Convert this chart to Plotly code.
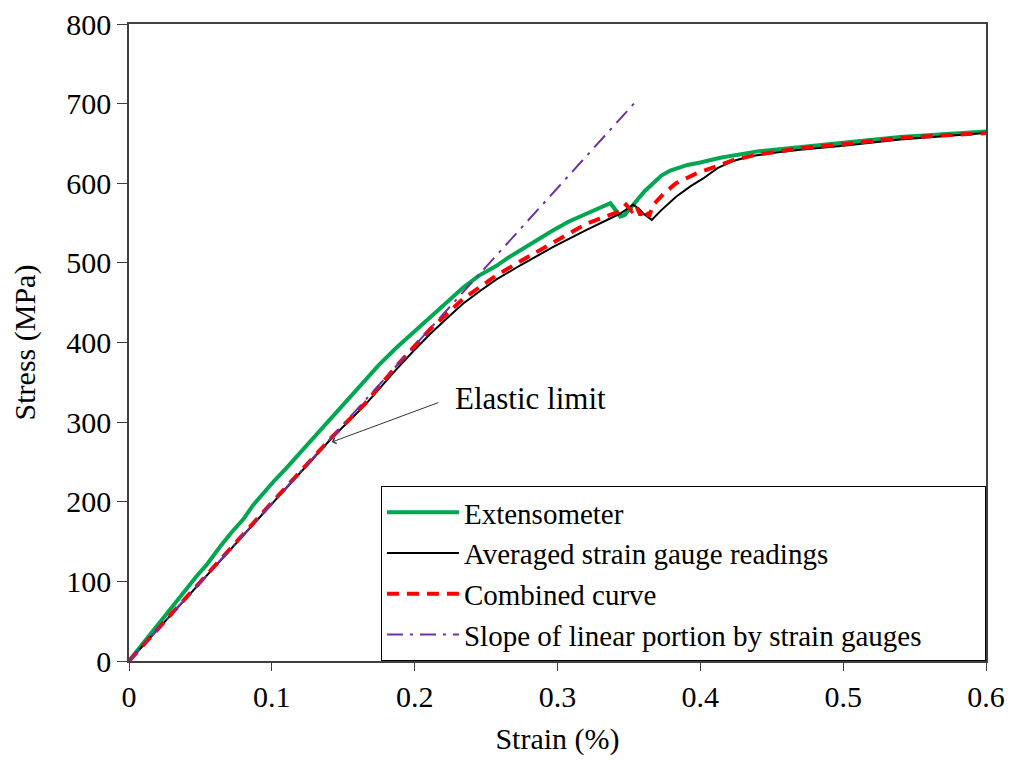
import plotly.graph_objects as go

# ---- data ----
green_strain = [0, 0.008, 0.015, 0.022, 0.028, 0.036, 0.043, 0.048, 0.054, 0.060, 0.064, 0.072, 0.080,
                0.087, 0.094, 0.102, 0.110, 0.117, 0.124, 0.132, 0.141, 0.152, 0.164, 0.175, 0.187,
                0.199, 0.211, 0.223, 0.234, 0.245, 0.257, 0.265, 0.274, 0.285, 0.297, 0.308, 0.320,
                0.330, 0.337, 0.340, 0.344, 0.347, 0.351, 0.356, 0.361, 0.367, 0.373, 0.379, 0.385,
                0.391, 0.400, 0.414, 0.440, 0.470, 0.500, 0.540, 0.570, 0.600]
green_stress = [0, 18, 35, 50, 64, 82, 98, 108, 120, 135, 144, 162, 178,
                196, 211, 227, 242, 256, 269, 286, 303, 326, 349, 372, 393,
                412, 431, 450, 469, 484, 496, 506, 516, 529, 541, 552, 562,
                569, 575, 568, 558, 560, 569, 579, 590, 600, 610, 616, 620,
                623, 626, 632, 640, 646, 651, 658, 662, 665]

black_strain = [0, 0.05, 0.10, 0.142, 0.165, 0.187, 0.199, 0.211, 0.223, 0.234, 0.246, 0.257, 0.274,
                0.297, 0.320, 0.344, 0.353, 0.357, 0.360, 0.366, 0.372, 0.383, 0.393, 0.402, 0.412,
                0.423, 0.435, 0.450, 0.470, 0.500, 0.540, 0.570, 0.600]
black_stress = [0, 99, 198, 280, 321, 366, 389, 411, 431, 449, 465, 479, 497,
                520, 541, 562, 573, 568, 562, 554, 565, 583, 596, 606, 619,
                628, 634, 638, 642, 647, 655, 659, 663]

red_strain = [0, 0.05, 0.10, 0.142, 0.165, 0.187, 0.211, 0.234, 0.257, 0.274, 0.297, 0.320,
              0.344, 0.348, 0.352, 0.355, 0.358, 0.361, 0.364, 0.367, 0.375, 0.383, 0.397,
              0.410, 0.423, 0.440, 0.470, 0.500, 0.540, 0.600]
red_stress = [0, 100, 199, 281, 323, 370, 417, 455, 484, 502, 526, 549,
              565, 573, 565, 572, 560, 568, 558, 573, 588, 600, 612,
              620, 629, 636, 644, 649, 657, 663]

slope_strain = [0, 0.354]
slope_stress = [0, 701]

x_ticks = [0, 0.1, 0.2, 0.3, 0.4, 0.5, 0.6]
y_ticks = [0, 100, 200, 300, 400, 500, 600, 700, 800]

FONT = "Liberation Serif, Times New Roman, serif"
PAD = "\u00a0" * 8  # widens the legend box to reach the right axis, as in the reference

fig = go.Figure()
fig.add_trace(go.Scatter(x=green_strain, y=green_stress, mode="lines", name="Extensometer",
                         line=dict(color="#00A650", width=4)))
fig.add_trace(go.Scatter(x=black_strain, y=black_stress, mode="lines", name="Averaged strain gauge readings",
                         line=dict(color="black", width=2)))
fig.add_trace(go.Scatter(x=red_strain, y=red_stress, mode="lines", name="Combined curve",
                         line=dict(color="#FF0000", width=4, dash="12px,8px")))
fig.add_trace(go.Scatter(x=slope_strain, y=slope_stress, mode="lines",
                         name="Slope of linear portion by strain gauges" + PAD,
                         line=dict(color="#7030A0", width=2, dash="16px,7px,3px,7px")))

# Elastic limit annotation
fig.add_annotation(x=0.142, y=275, xref="x", yref="y", text="", showarrow=True,
                   ax=108, ay=-40, arrowhead=4, arrowsize=1.2, arrowwidth=1, arrowcolor="#333333")
fig.add_annotation(x=0.2268, y=330, xref="x", yref="y", text="Elastic limit", showarrow=False,
                   xanchor="left", yanchor="middle", font=dict(family=FONT, size=31, color="black"))

fig.update_layout(
    width=1013, height=760,
    margin=dict(l=129, r=27, t=24, b=99, autoexpand=False),
    paper_bgcolor="white", plot_bgcolor="white",
    font=dict(family=FONT, size=30, color="black"),
    showlegend=True,
    legend=dict(x=0.294, y=0.0, xanchor="left", yanchor="bottom",
                bordercolor="black", borderwidth=1, bgcolor="white",
                font=dict(family=FONT, size=29, color="black"),
                itemwidth=72, traceorder="normal"),
    xaxis=dict(range=[0, 0.6], tickvals=x_ticks, ticktext=[str(v) if v else "0" for v in x_ticks],
               showgrid=False, zeroline=False, showline=True, linecolor="#404040", linewidth=1.5,
               mirror=True, ticks="outside", ticklen=8, tickcolor="#404040",
               tickfont=dict(family=FONT, size=30),
               title=dict(text="Strain (%)", font=dict(family=FONT, size=30), standoff=16)),
    yaxis=dict(range=[0, 800], tickvals=y_ticks,
               showgrid=False, zeroline=False, showline=True, linecolor="#404040", linewidth=1.5,
               mirror=True, ticks="outside", ticklen=10, tickcolor="#404040",
               tickfont=dict(family=FONT, size=30),
               title=dict(text="Stress (MPa)", font=dict(family=FONT, size=30), standoff=22)),
)

fig.write_html("out.html")
